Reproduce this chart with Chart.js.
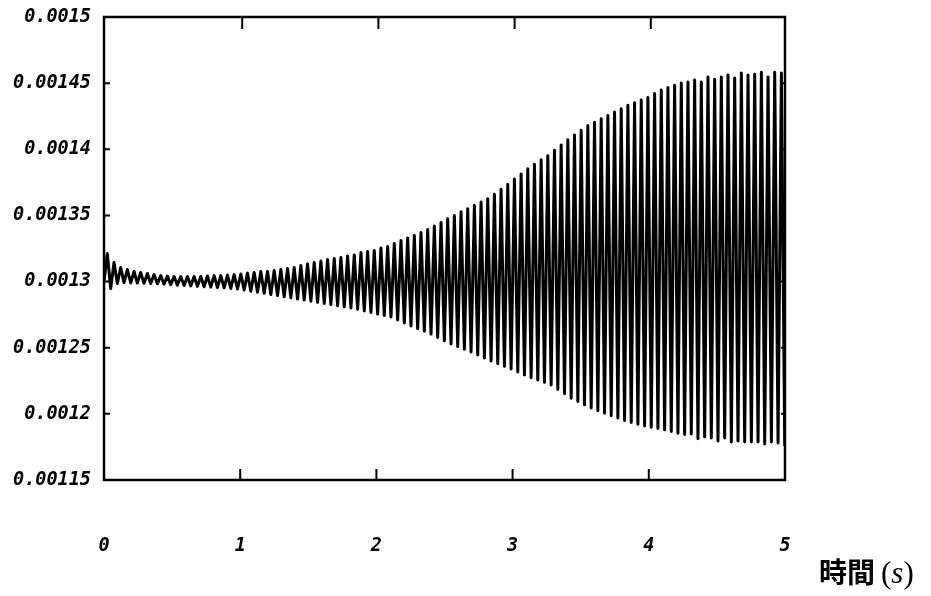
<!DOCTYPE html>
<html>
<head>
<meta charset="utf-8">
<script src="https://cdn.jsdelivr.net/npm/chart.js@4.4.1/dist/chart.umd.min.js"></script>
<style>
  body { margin: 0; background: #fff; }
  #wrap { position: relative; width: 931px; height: 596px; }
  #axisLabel {
    position: absolute; left: 819px; top: 551px;
    font-family: "Noto Sans CJK JP", sans-serif; font-size: 28px; font-weight: 700; color: #000;
    white-space: nowrap; line-height: 40px;
  }
  #axisLabel span { font-family: "Liberation Serif", serif; font-size: 31px; font-weight: 400; margin-left: 6px; }
</style>
</head>
<body>
<div id="wrap">
  <canvas id="chart" width="931" height="596"></canvas>
  <div id="axisLabel">時間<span>(<i>s</i>)</span></div>
</div>
<script>
// values: one peak and one trough per oscillation cycle
const startValue = 0.0013;
const cyclePeriod = 0.049; // s, ~102 cycles between 0 and 5 s

const highs = [
  0.0013212, 0.0013144, 0.0013106, 0.0013091, 0.0013076, 0.0013068, 0.0013061, 0.0013053, 0.0013045, 0.0013042,
  0.0013038, 0.0013038, 0.0013038, 0.0013038, 0.0013038, 0.0013042, 0.0013045, 0.0013045, 0.0013049, 0.0013053,
  0.0013057, 0.0013064, 0.0013068, 0.0013076, 0.0013076, 0.0013083, 0.0013091, 0.0013098, 0.0013106, 0.0013121,
  0.0013133, 0.0013144, 0.0013155, 0.0013167, 0.0013174, 0.0013182, 0.0013193, 0.0013201, 0.0013220, 0.0013227,
  0.0013235, 0.0013254, 0.0013265, 0.0013288, 0.0013311, 0.0013330, 0.0013348, 0.0013371, 0.0013394, 0.0013420,
  0.0013447, 0.0013474, 0.0013500, 0.0013527, 0.0013550, 0.0013576, 0.0013602, 0.0013627, 0.0013660, 0.0013698,
  0.0013736, 0.0013775, 0.0013814, 0.0013853, 0.0013886, 0.0013920, 0.0013952, 0.0013992, 0.0014033, 0.0014073,
  0.0014108, 0.0014144, 0.0014179, 0.0014205, 0.0014230, 0.0014256, 0.0014281, 0.0014306, 0.0014332, 0.0014352,
  0.0014373, 0.0014392, 0.0014421, 0.0014449, 0.0014467, 0.0014485, 0.0014501, 0.0014508, 0.0014523, 0.0014508,
  0.0014546, 0.0014530, 0.0014546, 0.0014561, 0.0014538, 0.0014576, 0.0014561, 0.0014568, 0.0014583, 0.0014546,
  0.0014583, 0.0014576
];

const lows = [
  0.0012947, 0.0012985, 0.0012992, 0.0012990, 0.0012989, 0.0012987, 0.0012985, 0.0012983, 0.0012980, 0.0012977,
  0.0012973, 0.0012970, 0.0012967, 0.0012964, 0.0012961, 0.0012958, 0.0012955, 0.0012952, 0.0012948, 0.0012944,
  0.0012936, 0.0012927, 0.0012919, 0.0012911, 0.0012902, 0.0012894, 0.0012885, 0.0012877, 0.0012868, 0.0012860,
  0.0012852, 0.0012843, 0.0012835, 0.0012826, 0.0012818, 0.0012809, 0.0012801, 0.0012791, 0.0012778, 0.0012766,
  0.0012754, 0.0012744, 0.0012733, 0.0012710, 0.0012687, 0.0012664, 0.0012644, 0.0012624, 0.0012603, 0.0012578,
  0.0012553, 0.0012528, 0.0012508, 0.0012488, 0.0012467, 0.0012445, 0.0012422, 0.0012399, 0.0012379, 0.0012359,
  0.0012339, 0.0012316, 0.0012294, 0.0012273, 0.0012255, 0.0012238, 0.0012218, 0.0012185, 0.0012152, 0.0012118,
  0.0012093, 0.0012068, 0.0012045, 0.0012024, 0.0012005, 0.0011985, 0.0011968, 0.0011950, 0.0011934, 0.0011921,
  0.0011909, 0.0011898, 0.0011890, 0.0011879, 0.0011866, 0.0011853, 0.0011844, 0.0011848, 0.0011811, 0.0011826,
  0.0011818, 0.0011795, 0.0011818, 0.0011788, 0.0011795, 0.0011788, 0.0011788, 0.0011788, 0.0011773, 0.0011788,
  0.0011780, 0.0011758
];

const xTickLabels = ['0', '1', '2', '3', '4', '5'];
const yTickLabels = ['0.00115', '0.0012', '0.00125', '0.0013', '0.00135', '0.0014', '0.00145', '0.0015'];

// zigzag: peak on the first half of each cycle, trough on the second half
const points = [{ x: 0, y: startValue }];
highs.forEach((h, k) => {
    points.push({ x: (k + 0.5) * cyclePeriod, y: h });
    points.push({ x: (k + 1) * cyclePeriod, y: lows[k] });
});

const tickFont = { family: 'DejaVu Sans Mono', size: 18.5, style: 'italic', weight: 'bold' };

// frame around the plot plus inward tick marks, like the original plot
const framePlugin = {
    id: 'frame',
    afterDraw(chart) {
        const { ctx, chartArea: a, scales } = chart;
        ctx.save();
        ctx.strokeStyle = '#000';
        ctx.lineWidth = 2.5;
        ctx.strokeRect(a.left, a.top, a.right - a.left, a.bottom - a.top);
        ctx.lineWidth = 2;
        ctx.beginPath();
        [1, 2, 3, 4].forEach(v => {
            const px = scales.x.getPixelForValue(v);
            ctx.moveTo(px, a.bottom); ctx.lineTo(px, a.bottom - 11);
            ctx.moveTo(px + 2, a.top); ctx.lineTo(px + 2, a.top + 12);
        });
        yTickLabels.slice(1, -1).forEach(lbl => {
            const py = scales.y.getPixelForValue(parseFloat(lbl));
            ctx.moveTo(a.left, py); ctx.lineTo(a.left + 6, py);
            ctx.moveTo(a.right, py); ctx.lineTo(a.right - 4, py);
        });
        ctx.stroke();
        ctx.restore();
    }
};

new Chart(document.getElementById('chart'), {
    type: 'line',
    data: {
        datasets: [{
            data: points,
            borderColor: '#000',
            borderWidth: 3,
            borderJoinStyle: 'round',
            pointRadius: 0,
            tension: 0,
            fill: false
        }]
    },
    options: {
        responsive: false,
        animation: false,
        layout: { padding: { top: 17, right: 146, left: 0, bottom: 0 } },
        plugins: { legend: { display: false }, tooltip: { enabled: false } },
        scales: {
            x: {
                type: 'linear',
                min: 0,
                max: 5,
                grid: { display: false },
                border: { display: false },
                ticks: {
                    stepSize: 1,
                    padding: 47,
                    color: '#000',
                    font: tickFont,
                    callback: (v, i) => xTickLabels[i]
                },
                afterFit(scale) { scale.height = 116; }
            },
            y: {
                min: 0.00115,
                max: 0.0015,
                grid: { display: false },
                border: { display: false },
                ticks: {
                    stepSize: 0.00005,
                    padding: 5,
                    color: '#000',
                    font: tickFont,
                    callback: (v, i) => yTickLabels[i]
                },
                afterFit(scale) {
                    scale.width = 104;
                    scale.paddingTop = 0;
                    scale.paddingBottom = 0;
                }
            }
        }
    },
    plugins: [framePlugin]
});
</script>
</body>
</html>
